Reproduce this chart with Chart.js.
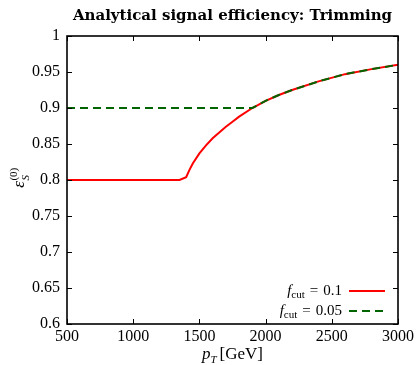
<!DOCTYPE html>
<html>
<head>
<meta charset="utf-8">
<script src="https://cdn.jsdelivr.net/npm/chart.js@4"></script>
<style>
  html, body { margin: 0; background: #fff; }
  #wrap { width: 417px; height: 365px; }
</style>
</head>
<body>
<div id="wrap"><canvas id="chart"></canvas></div>
<script>
const ptValues = [500, 1000, 1350, 1400, 1425, 1450, 1500, 1550, 1600, 1650, 1700, 1750, 1800, 1900, 2000, 2100, 2200, 2400, 2600, 2800, 3000];
const effCut010 = [0.800, 0.800, 0.800, 0.804, 0.814, 0.823, 0.837, 0.848, 0.858, 0.866, 0.874, 0.881, 0.888, 0.900, 0.910, 0.918, 0.925, 0.937, 0.947, 0.954, 0.960];
const effCut005 = [0.900, 0.900, 0.900, 0.900, 0.900, 0.900, 0.900, 0.900, 0.900, 0.900, 0.900, 0.900, 0.900, 0.900, 0.910, 0.918, 0.925, 0.937, 0.947, 0.954, 0.960];
const xTicks = [500, 1000, 1500, 2000, 2500, 3000];
const yTicks = [0.6, 0.65, 0.7, 0.75, 0.8, 0.85, 0.9, 0.95, 1];
const legendLabels = ["0.1", "0.05"];

const SERIF = "'Liberation Serif', 'DejaVu Serif', serif";
const chartCanvas = document.getElementById("chart");

function toPoints(ys) {
  return ptValues.map((x, i) => ({ x: x, y: ys[i] }));
}

// draw a run of text pieces: [text, font, dy, extra gap after]
function drawRich(ctx, parts, x, y, align) {
  let total = 0;
  parts.forEach((p) => { ctx.font = p[1]; total += ctx.measureText(p[0]).width + (p[3] || 0); });
  let cx = align === "right" ? x - total : align === "center" ? x - total / 2 : x;
  ctx.textAlign = "left";
  parts.forEach((p) => {
    ctx.font = p[1];
    ctx.fillText(p[0], cx, y + (p[2] || 0));
    cx += ctx.measureText(p[0]).width + (p[3] || 0);
  });
}

const framePlugin = {
  id: "frame",
  afterDraw(chart) {
    const ctx = chart.ctx;
    const a = chart.chartArea;
    const xs = chart.scales.x;
    const ys = chart.scales.y;
    ctx.save();
    ctx.fillStyle = "#000";
    ctx.strokeStyle = "#000";

    // inward tick marks
    ctx.lineWidth = 1;
    ctx.beginPath();
    xTicks.forEach((v) => {
      const px = Math.round(xs.getPixelForValue(v)) + 0.5;
      ctx.moveTo(px, a.bottom); ctx.lineTo(px, a.bottom - 5);
      ctx.moveTo(px, a.top); ctx.lineTo(px, a.top + 5);
    });
    yTicks.forEach((v) => {
      const py = Math.round(ys.getPixelForValue(v)) + 0.5;
      ctx.moveTo(a.left, py); ctx.lineTo(a.left + 5, py);
      ctx.moveTo(a.right, py); ctx.lineTo(a.right - 5, py);
    });
    ctx.stroke();

    // box
    ctx.lineWidth = 1.6;
    ctx.strokeRect(a.left, a.top, a.right - a.left, a.bottom - a.top);

    // title
    ctx.textBaseline = "alphabetic";
    ctx.font = "bold 15px 'DejaVu Serif', serif";
    ctx.textAlign = "center";
    ctx.fillText("Analytical signal efficiency: Trimming", (a.left + a.right) / 2, 20);

    // x axis title
    drawRich(ctx, [
      ["p", "italic 17px " + SERIF, 0],
      ["T", "italic 11px " + SERIF, 4, 3],
      ["[GeV]", "17px " + SERIF, 0]
    ], (a.left + a.right) / 2, 359, "center");

    // y axis title
    ctx.save();
    ctx.translate(24, 178);
    ctx.rotate(-Math.PI / 2);
    ctx.font = "italic 17px " + SERIF;
    const ew = ctx.measureText("\u03b5").width;
    ctx.font = "11px " + SERIF;
    const sw = ctx.measureText("(0)").width;
    const x0 = -(ew + sw) / 2;
    ctx.font = "italic 17px " + SERIF;
    ctx.textAlign = "left";
    ctx.fillText("\u03b5", x0, 0);
    ctx.font = "11px " + SERIF;
    ctx.fillText("(0)", x0 + ew + 0.5, -7);
    ctx.font = "italic 11px " + SERIF;
    ctx.fillText("S", x0 + ew + 0.5, 5);
    ctx.restore();

    // legend
    const rows = [
      { label: legendLabels[0], color: "#ff0000", dash: [], y: 291 },
      { label: legendLabels[1], color: "#006400", dash: [8, 5], y: 311 }
    ];
    rows.forEach((r) => {
      ctx.fillStyle = "#000";
      drawRich(ctx, [
        ["f", "italic 15px " + SERIF, 0],
        ["cut", "11px " + SERIF, 3, 5],
        ["=", "15px " + SERIF, 0, 5],
        [r.label, "15px " + SERIF, 0]
      ], 342, r.y + 4, "right");
      ctx.strokeStyle = r.color;
      ctx.lineWidth = 2;
      ctx.setLineDash(r.dash);
      ctx.beginPath();
      ctx.moveTo(349, r.y);
      ctx.lineTo(385, r.y);
      ctx.stroke();
      ctx.setLineDash([]);
    });

    ctx.restore();
  }
};

new Chart(chartCanvas, {
  type: "line",
  data: {
    datasets: [
      {
        label: "fcut = 0.1",
        data: toPoints(effCut010),
        borderColor: "#ff0000",
        borderWidth: 2,
        pointRadius: 0,
        tension: 0,
        order: 2
      },
      {
        label: "fcut = 0.05",
        data: toPoints(effCut005),
        borderColor: "#006400",
        borderWidth: 2,
        borderDash: [8, 5],
        pointRadius: 0,
        tension: 0,
        order: 1
      }
    ]
  },
  options: {
    responsive: true,
    maintainAspectRatio: false,
    animation: false,
    layout: { padding: { top: 36, right: 18, left: 0, bottom: 0 } },
    plugins: {
      legend: { display: false },
      tooltip: { enabled: false }
    },
    scales: {
      x: {
        type: "linear",
        min: 500,
        max: 3000,
        afterFit: (s) => { s.height = 41; },
        afterBuildTicks: (s) => { s.ticks = xTicks.map((v) => ({ value: v })); },
        grid: { display: false, drawTicks: false },
        border: { display: false },
        ticks: {
          padding: 3,
          color: "#000",
          maxRotation: 0,
          font: { family: SERIF, size: 16 },
          callback: (v) => String(v)
        }
      },
      y: {
        type: "linear",
        min: 0.6,
        max: 1,
        afterFit: (s) => { s.width = 67; },
        afterBuildTicks: (s) => { s.ticks = yTicks.map((v) => ({ value: v })); },
        grid: { display: false, drawTicks: false },
        border: { display: false },
        ticks: {
          padding: 7,
          color: "#000",
          font: { family: SERIF, size: 16 },
          callback: (v) => String(+Number(v).toFixed(2))
        }
      }
    }
  },
  plugins: [framePlugin]
});
</script>
</body>
</html>
